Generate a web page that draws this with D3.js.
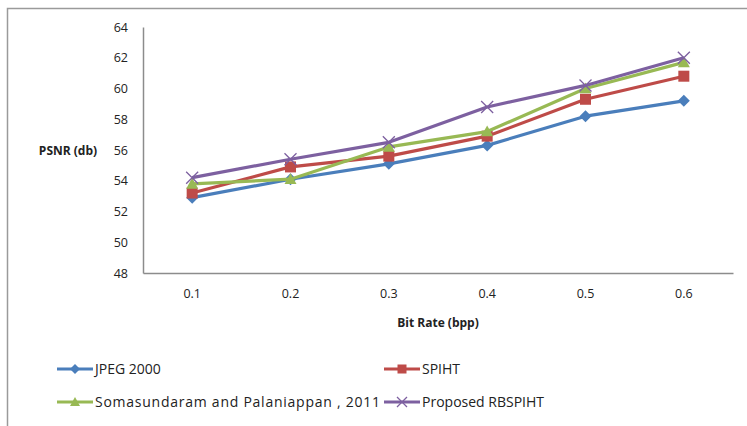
<!DOCTYPE html>
<html><head><meta charset="utf-8">
<script src="https://cdn.jsdelivr.net/npm/d3@7"></script>
<style>body{margin:0;background:#fff}svg{display:block}text{font-family:"Open Sans",sans-serif;fill:#222}</style>
</head><body><svg id="c" width="747" height="426"></svg>
<script>
const categories = ["0.1","0.2","0.3","0.4","0.5","0.6"];
const jpeg2000 = [52.9, 54.1, 55.1, 56.3, 58.2, 59.2];
const spiht = [53.2, 54.9, 55.6, 56.9, 59.3, 60.8];
const soma2011 = [53.8, 54.1, 56.2, 57.2, 60.0, 61.7];
const rbspiht = [54.2, 55.4, 56.5, 58.8, 60.2, 62.0];
const yTicks = [48,50,52,54,56,58,60,62,64];
const seriesNames = ["JPEG 2000","SPIHT","Somasundaram  and Palaniappan , 2011","Proposed RBSPIHT"];

const series = [
  {name: seriesNames[0], values: jpeg2000, color: "#4A7EBB", marker: "diamond"},
  {name: seriesNames[1], values: spiht, color: "#BE4B48", marker: "square"},
  {name: seriesNames[2], values: soma2011, color: "#98B954", marker: "triangle"},
  {name: seriesNames[3], values: rbspiht, color: "#7D60A0", marker: "x"}
];

const svg = d3.select("#c");
svg.append("path").attr("d","M7.5,426 V8.5 H747").attr("fill","none").attr("stroke","#9a9a9a").attr("stroke-width",1.5);

const L = 143, R = 733, T = 27, B = 273;
const x = d3.scaleBand().domain(categories).range([L, R]);
const y = d3.scaleLinear().domain([48, 64]).range([B, T]);

const yAx = svg.append("g").attr("transform",`translate(${L},0)`)
  .call(d3.axisLeft(y).tickValues(yTicks).tickSize(0).tickPadding(15).tickFormat(d3.format("d")));
const xAx = svg.append("g").attr("transform",`translate(0,${B})`)
  .call(d3.axisBottom(x).tickSize(0).tickPadding(16));
[yAx, xAx].forEach(g => {
  g.select(".domain").attr("stroke","#8c8c8c").attr("stroke-width",1.5);
  g.selectAll("text").style("font-family","'Open Sans',sans-serif").style("font-size","12.5px").attr("fill","#222");
});

svg.append("text").attr("x",68).attr("y",155).attr("text-anchor","middle")
  .style("font-weight","bold").style("font-size","12px").text("PSNR (db)");
svg.append("text").attr("x",438).attr("y",327).attr("text-anchor","middle")
  .style("font-weight","bold").style("font-size","12px").text("Bit Rate (bpp)");

function drawMarker(g, type, color, cx, cy, s) {
  if (type === "diamond") {
    g.append("path").attr("d",`M${cx},${cy-s} L${cx+s},${cy} L${cx},${cy+s} L${cx-s},${cy} Z`).attr("fill",color);
  } else if (type === "square") {
    g.append("rect").attr("x",cx-s+0.5).attr("y",cy-s+0.5).attr("width",2*s-1).attr("height",2*s-1).attr("fill",color);
  } else if (type === "triangle") {
    g.append("path").attr("d",`M${cx},${cy-s} L${cx+s},${cy+s*0.8} L${cx-s},${cy+s*0.8} Z`).attr("fill",color);
  } else {
    g.append("path").attr("d",`M${cx-s},${cy-s} L${cx+s},${cy+s} M${cx-s},${cy+s} L${cx+s},${cy-s}`)
      .attr("stroke",color).attr("stroke-width",1.3).attr("fill","none");
  }
}

const line = d3.line().x((d,i) => x(categories[i]) + x.bandwidth()/2).y(d => y(d));
series.forEach(s => {
  const g = svg.append("g");
  g.append("path").datum(s.values).attr("d", line).attr("fill","none")
    .attr("stroke", s.color).attr("stroke-width",3.2).attr("stroke-linejoin","round");
  s.values.forEach((v,i) => drawMarker(g, s.marker, s.color, x(categories[i]) + x.bandwidth()/2, y(v), 6));
});

const legendPos = [[57,369],[384,369],[57,402],[384,402]];
series.forEach((s,i) => {
  const [lx, ly] = legendPos[i];
  const g = svg.append("g");
  g.append("line").attr("x1",lx).attr("x2",lx+36).attr("y1",ly).attr("y2",ly).attr("stroke",s.color).attr("stroke-width",3.2);
  drawMarker(g, s.marker, s.color, lx+18, ly, 5);
  const t = g.append("text").attr("x",lx+38).attr("y",ly+5).style("font-size","14px").text(s.name);
  if (i === 2) t.attr("textLength",285).attr("lengthAdjust","spacing");
});
</script></body></html>
